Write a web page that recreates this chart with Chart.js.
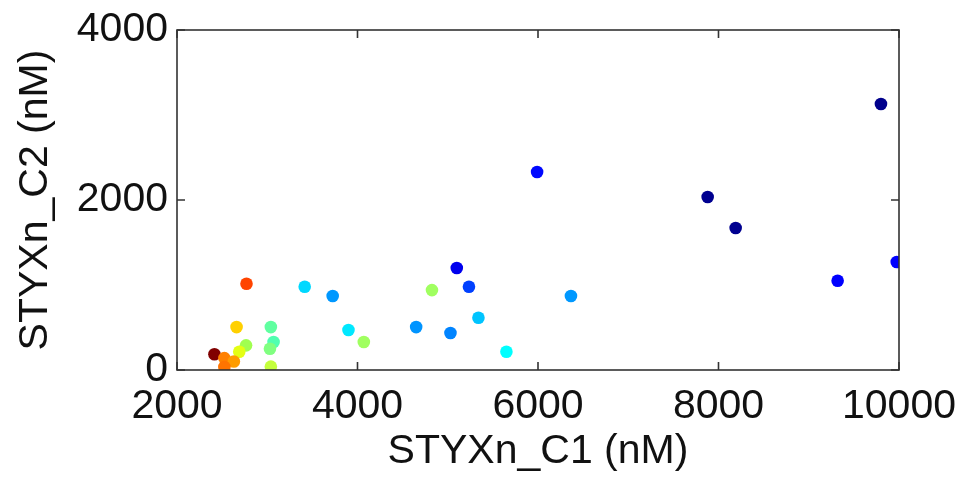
<!DOCTYPE html>
<html>
<head>
<meta charset="utf-8">
<script src="https://cdn.jsdelivr.net/npm/chart.js@4"></script>
<style>
  html, body { margin: 0; padding: 0; background: #ffffff; }
  #wrap { width: 966px; height: 480px; }
</style>
</head>
<body>
<div id="wrap"><canvas id="c" width="966" height="480"></canvas></div>
<script>
// Data
const c1Values = [9800, 5990, 7880, 8190, 9320, 9975, 5100, 5235, 4825, 6365, 5340, 4650, 5030, 5650,
                  2770, 3415, 3725, 2660, 3040, 3900, 3070, 4070, 2765, 3030, 2690, 2415, 2525, 2630, 2525, 3040];
const c2Values = [3130, 2330, 2035, 1670, 1050, 1270, 1200, 980, 940, 870, 615, 505, 435, 215,
                  1015, 980, 870, 505, 505, 470, 330, 330, 290, 250, 215, 185, 140, 100, 35, 40];
const pointColors = ['#00008C', '#0008FF', '#000090', '#000090', '#0000FF', '#0000FF', '#0000EE', '#0040FF',
                     '#A0FF60', '#0098FF', '#00C4FF', '#0094FF', '#0084FF', '#00FFFF',
                     '#FF4400', '#00D8FF', '#0098FF', '#FFD000', '#60FFA0', '#00E8FF', '#50FFB0', '#A0FF60',
                     '#A0FF50', '#80FF80', '#E4FF14', '#800000', '#FF8000', '#FF9C00', '#FF7400', '#C4FF3C'];
const xTickValues = [2000, 4000, 6000, 8000, 10000];
const yTickValues = [0, 2000, 4000];
const xTitle = 'STYXn_C1 (nM)';
const yTitle = 'STYXn_C2 (nM)';

const points = c1Values.map((v, i) => ({ x: v, y: c2Values[i] }));

const FONT = 'Liberation Sans, Arial, sans-serif';

const framePlugin = {
  id: 'frame',
  afterDatasetsDraw(chart) {
    const { ctx, chartArea: a, scales } = chart;
    ctx.save();
    ctx.strokeStyle = '#333333';
    ctx.lineWidth = 1.6;
    ctx.strokeRect(a.left, a.top, a.right - a.left, a.bottom - a.top);
    const L = 8;
    ctx.beginPath();
    xTickValues.forEach(v => {
      const px = scales.x.getPixelForValue(v);
      ctx.moveTo(px, a.bottom); ctx.lineTo(px, a.bottom - L);
      ctx.moveTo(px, a.top); ctx.lineTo(px, a.top + L);
    });
    yTickValues.forEach(v => {
      const py = scales.y.getPixelForValue(v);
      ctx.moveTo(a.left, py); ctx.lineTo(a.left + L, py);
      ctx.moveTo(a.right, py); ctx.lineTo(a.right - L, py);
    });
    ctx.stroke();
    ctx.restore();
  }
};

new Chart(document.getElementById('c'), {
  type: 'scatter',
  data: {
    datasets: [{
      data: points,
      pointRadius: 6.3,
      pointHoverRadius: 6.3,
      pointBorderWidth: 0,
      pointBackgroundColor: pointColors,
      pointBorderColor: pointColors
    }]
  },
  options: {
    responsive: false,
    animation: false,
    events: [],
    layout: { padding: { left: 0, top: 30, right: 67, bottom: 0 } },
    plugins: { legend: { display: false }, tooltip: { enabled: false } },
    scales: {
      x: {
        type: 'linear',
        min: 2000, max: 10000,
        afterBuildTicks(scale) { scale.ticks = xTickValues.map(v => ({ value: v })); },
        afterFit(scale) { scale.height = 110; scale.paddingLeft = 0; scale.paddingRight = 0; },
        grid: { display: false, drawTicks: false, tickLength: 0 },
        border: { display: false },
        ticks: { font: { family: FONT, size: 41 }, color: '#111111', padding: 12, maxRotation: 0, autoSkip: false,
                 callback: v => String(v) },
        title: { display: true, text: xTitle, font: { family: FONT, size: 41 }, color: '#111111',
                 padding: { top: 0, bottom: 4 } }
      },
      y: {
        type: 'linear',
        min: 0, max: 4000,
        afterBuildTicks(scale) { scale.ticks = yTickValues.map(v => ({ value: v })); },
        afterFit(scale) { scale.width = 177; scale.paddingTop = 0; scale.paddingBottom = 0; },
        grid: { display: false, drawTicks: false, tickLength: 0 },
        border: { display: false },
        ticks: { font: { family: FONT, size: 41 }, color: '#111111', padding: 9, autoSkip: false,
                 callback: v => String(v) },
        title: { display: true, text: yTitle, font: { family: FONT, size: 41 }, color: '#111111',
                 padding: { top: 11, bottom: 0 } }
      }
    }
  },
  plugins: [framePlugin]
});
</script>
</body>
</html>
